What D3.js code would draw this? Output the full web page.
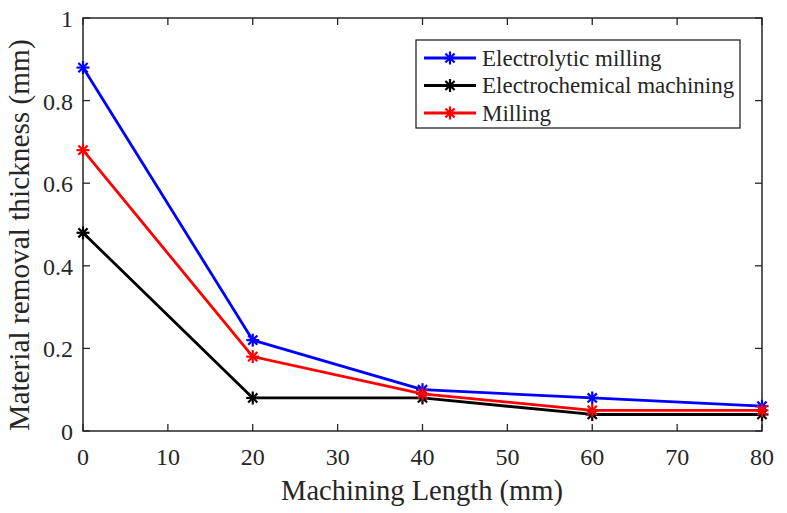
<!DOCTYPE html>
<html><head><meta charset="utf-8">
<script src="https://cdn.jsdelivr.net/npm/d3@7"></script>
<style>body{margin:0;background:#fff}svg{display:block}</style>
</head><body><svg id="c" width="787" height="513"></svg>
<script>
const xValues = [0, 20, 40, 60, 80];
const seriesNames = ["Electrolytic milling", "Electrochemical machining", "Milling"];
const electrolyticMilling = [0.88, 0.22, 0.10, 0.08, 0.06];
const electrochemicalMachining = [0.48, 0.08, 0.08, 0.04, 0.04];
const milling = [0.68, 0.18, 0.09, 0.05, 0.05];
const seriesColors = ["#0000ff", "#000000", "#ff0000"];
const xTicks = [0, 10, 20, 30, 40, 50, 60, 70, 80];
const yTicks = [0, 0.2, 0.4, 0.6, 0.8, 1];
const xTitle = "Machining Length (mm)";
const yTitle = "Material removal thickness (mm)";

const FONT = "Liberation Serif";
const svg = d3.select("#c");
const L = 83, R = 762, T = 18, B = 431;
const x = d3.scaleLinear().domain([0, 80]).range([L, R]);
const y = d3.scaleLinear().domain([0, 1]).range([B, T]);
const axisColor = "#262626";

const tk = 7;
const g = svg.append("g");
xTicks.forEach(v => {
  g.append("line").attr("x1", x(v)).attr("x2", x(v)).attr("y1", B).attr("y2", B - tk).attr("stroke", axisColor).attr("stroke-width", 1.3);
  g.append("line").attr("x1", x(v)).attr("x2", x(v)).attr("y1", T).attr("y2", T + tk).attr("stroke", axisColor).attr("stroke-width", 1.3);
  g.append("text").attr("x", x(v)).attr("y", B + 34).attr("text-anchor", "middle").attr("font-family", FONT).attr("font-size", 24).attr("fill", axisColor).text(d3.format("d")(v));
});
yTicks.forEach(v => {
  g.append("line").attr("x1", L).attr("x2", L + tk).attr("y1", y(v)).attr("y2", y(v)).attr("stroke", axisColor).attr("stroke-width", 1.3);
  g.append("line").attr("x1", R).attr("x2", R - tk).attr("y1", y(v)).attr("y2", y(v)).attr("stroke", axisColor).attr("stroke-width", 1.3);
  g.append("text").attr("x", L - 10).attr("y", y(v) + 9).attr("text-anchor", "end").attr("font-family", FONT).attr("font-size", 24).attr("fill", axisColor).text(v === 0 || v === 1 ? String(v) : d3.format(".1f")(v));
});
g.append("rect").attr("x", L).attr("y", T).attr("width", R - L).attr("height", B - T).attr("fill", "none").attr("stroke", axisColor).attr("stroke-width", 1.5);

svg.append("text").attr("x", 422).attr("y", 500).attr("text-anchor", "middle").attr("font-family", FONT).attr("font-size", 28.5).attr("fill", axisColor).text(xTitle);
svg.append("text").attr("transform", `translate(29,235) rotate(-90)`).attr("text-anchor", "middle").attr("font-family", FONT).attr("font-size", 29.3).attr("fill", axisColor).text(yTitle);

const allSeries = [electrolyticMilling, electrochemicalMachining, milling];
const line = d3.line().x((d, i) => x(xValues[i])).y(d => y(d));

function asterisk(sel, cx, cy, color, r) {
  const a = r * 0.7071;
  const gg = sel.append("g").attr("stroke", color).attr("stroke-width", 2.2);
  gg.append("line").attr("x1", cx - r).attr("x2", cx + r).attr("y1", cy).attr("y2", cy);
  gg.append("line").attr("x1", cx).attr("x2", cx).attr("y1", cy - r).attr("y2", cy + r);
  gg.append("line").attr("x1", cx - a).attr("x2", cx + a).attr("y1", cy - a).attr("y2", cy + a);
  gg.append("line").attr("x1", cx - a).attr("x2", cx + a).attr("y1", cy + a).attr("y2", cy - a);
}

allSeries.forEach((s, k) => {
  svg.append("path").datum(s).attr("d", line).attr("fill", "none").attr("stroke", seriesColors[k]).attr("stroke-width", 2.8).attr("stroke-linejoin", "round");
  s.forEach((v, i) => asterisk(svg, x(xValues[i]), y(v), seriesColors[k], 6.5));
});

const lg = svg.append("g");
lg.append("rect").attr("x", 416).attr("y", 40).attr("width", 324).attr("height", 88).attr("fill", "#fff").attr("stroke", axisColor).attr("stroke-width", 1.3);
seriesNames.forEach((n, k) => {
  const yy = 58 + k * 27.5;
  lg.append("line").attr("x1", 424).attr("x2", 476).attr("y1", yy).attr("y2", yy).attr("stroke", seriesColors[k]).attr("stroke-width", 2.8);
  asterisk(lg, 450, yy, seriesColors[k], 6.5);
  lg.append("text").attr("x", 482).attr("y", yy + 7.5).attr("font-family", FONT).attr("font-size", 23).attr("fill", axisColor).text(n);
});
</script></body></html>
